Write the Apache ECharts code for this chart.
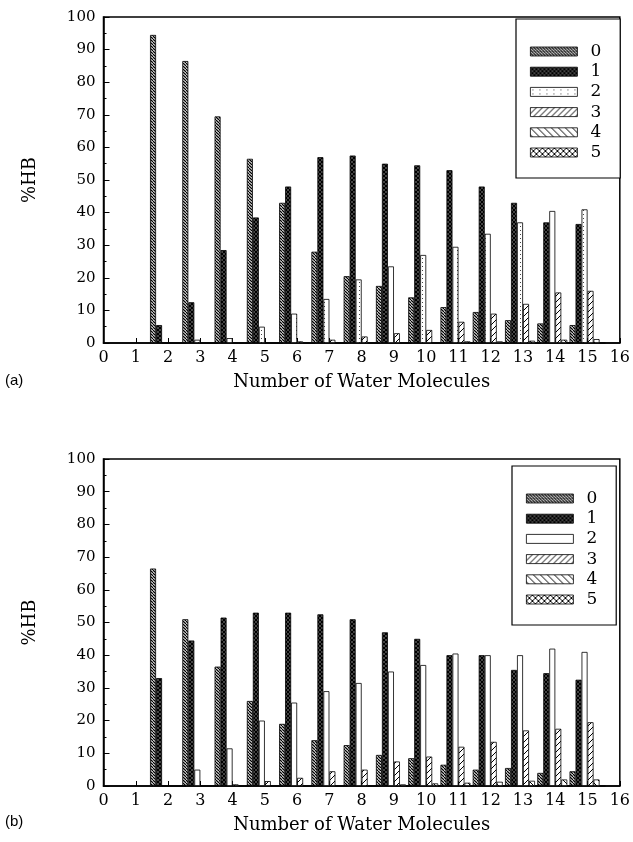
<!DOCTYPE html>
<html>
<head>
<meta charset="utf-8">
<script src="https://cdn.jsdelivr.net/npm/echarts@6/dist/echarts.min.js"></script>
<style>
  html, body { margin: 0; padding: 0; background: #fff; }
  #chart { width: 633px; height: 842px; }
</style>
</head>
<body>
<div id="chart"></div>
<script>
// Axis categories (number of water molecules) and the clusters that carry data
const xLabels = ['0','1','2','3','4','5','6','7','8','9','10','11','12','13','14','15','16'];
const waterCounts = [2,3,4,5,6,7,8,9,10,11,12,13,14,15];
const hbNames = ['0','1','2','3','4','5'];

// Panel (a): %HB for 0..5 hydrogen bonds
const hbA0 = [94.5, 86.5, 69.5, 56.5, 43, 28, 20.5, 17.5, 14, 11, 9.5, 7, 6, 5.5];
const hbA1 = [5.5, 12.5, 28.5, 38.5, 48, 57, 57.5, 55, 54.5, 53, 48, 43, 37, 36.5];
const hbA2 = [0, 1, 1.5, 5, 9, 13.5, 19.5, 23.5, 27, 29.5, 33.5, 37, 40.5, 41];
const hbA3 = [0, 0, 0, 0, 0.5, 1, 2, 3, 4, 6.5, 9, 12, 15.5, 16];
const hbA4 = [0, 0, 0, 0, 0, 0, 0, 0, 0, 0.5, 0.5, 0.7, 1, 1.2];
const hbA5 = [0, 0, 0, 0, 0, 0, 0, 0, 0, 0, 0, 0, 0, 0];

// Panel (b)
const hbB0 = [66.5, 51, 36.5, 26, 19, 14, 12.5, 9.5, 8.5, 6.5, 5, 5.5, 4, 4.5];
const hbB1 = [33, 44.5, 51.5, 53, 53, 52.5, 51, 47, 45, 40, 40, 35.5, 34.5, 32.5];
const hbB2 = [0, 5, 11.5, 20, 25.5, 29, 31.5, 35, 37, 40.5, 40, 40, 42, 41];
const hbB3 = [0, 0, 0.5, 1.5, 2.5, 4.5, 5, 7.5, 9, 12, 13.5, 17, 17.5, 19.5];
const hbB4 = [0, 0, 0, 0, 0, 0, 0, 0.5, 0.8, 1, 1.3, 1.6, 2, 2];
const hbB5 = [0, 0, 0, 0, 0, 0, 0, 0, 0, 0, 0, 0, 0, 0];

const SERIF = 'DejaVu Serif';

// spread a cluster-indexed array over the full 0..16 category axis
function onAxis(vals) {
  return xLabels.map(l => {
    const i = waterCounts.indexOf(Number(l));
    return i < 0 ? null : vals[i];
  });
}

// repeating hatch tiles used as bar fills
function tile(size, opts) {
  const c = document.createElement('canvas');
  c.width = size; c.height = size;
  const g = c.getContext('2d');
  g.fillStyle = opts.bg || '#fff';
  g.fillRect(0, 0, size, size);
  g.strokeStyle = '#000';
  g.lineWidth = opts.lw || 1;
  (opts.dirs || []).forEach(d => {
    for (let k = -1; k <= 1; k++) {
      g.beginPath();
      if (d === '/') { g.moveTo(k * size, size); g.lineTo(k * size + size, 0); }
      else { g.moveTo(k * size, 0); g.lineTo(k * size + size, size); }
      g.stroke();
    }
  });
  return { image: c, repeat: 'repeat' };
}

const fillsA = [
  tile(3, { dirs: ['\\'], lw: 1.3 }),
  tile(4, { dirs: ['/', '\\'], lw: 1.4, bg: '#888' }),
  (function () {
    const c = document.createElement('canvas'); c.width = 7; c.height = 4;
    const g = c.getContext('2d'); g.fillStyle = '#fff'; g.fillRect(0, 0, 7, 4);
    g.fillStyle = '#444'; g.fillRect(2, 2, 1, 1);
    return { image: c, repeat: 'repeat' };
  })(),
  tile(6, { dirs: ['/'], lw: 1 }),
  tile(7, { dirs: ['\\'], lw: 1 }),
  tile(6, { dirs: ['/', '\\'], lw: 1 })
];
const fillsB = fillsA.slice();
fillsB[2] = '#fff';

const chart = echarts.init(document.getElementById('chart'), null, { renderer: 'canvas' });

function axisPair(idx) {
  const x = {
    type: 'category', gridIndex: idx, data: xLabels, boundaryGap: false,
    axisLine: { lineStyle: { color: '#000', width: 1.5 } },
    axisTick: { inside: true, length: 5, alignWithLabel: true, lineStyle: { color: '#000' } },
    axisLabel: { interval: 0, color: '#000', fontFamily: SERIF, fontSize: 16, margin: 7 },
    name: 'Number of Water Molecules', nameLocation: 'middle', nameGap: 30,
    nameTextStyle: { color: '#000', fontFamily: SERIF, fontSize: 18 },
    splitLine: { show: false }
  };
  const y = {
    type: 'value', gridIndex: idx, min: 0, max: 100, interval: 10,
    axisLine: { show: true, lineStyle: { color: '#000', width: 1.5 } },
    axisTick: { show: true, inside: true, length: 6, lineStyle: { color: '#000' } },
    minorTick: { show: true, splitNumber: 2, length: 3, lineStyle: { color: '#000' } },
    axisLabel: { color: '#000', fontFamily: SERIF, fontSize: 15, margin: 8 },
    splitLine: { show: false },
    name: '%HB', nameLocation: 'middle', nameGap: 64, nameRotate: 90,
    nameTextStyle: { color: '#000', fontFamily: SERIF, fontSize: 18 }
  };
  return [x, y];
}

const [xa, ya] = axisPair(0);
const [xb, yb] = axisPair(1);

function makeSeries(sets, fills, idx) {
  return sets.map((vals, k) => ({
    type: 'bar', name: hbNames[k], xAxisIndex: idx, yAxisIndex: idx,
    data: onAxis(vals), barWidth: 6, barGap: '0%',
    itemStyle: { color: fills[k], borderColor: '#000', borderWidth: 0.8 },
    emphasis: { disabled: true }, animation: false
  }));
}

function legendFor(left, top, fills) {
  return {
    orient: 'vertical', left: left, top: top,
    padding: [24, 19, 17, 14], itemWidth: 47, itemHeight: 9, itemGap: 3.2,
    borderColor: '#000', borderWidth: 1.2, backgroundColor: '#fff',
    selectedMode: false,
    textStyle: { color: '#000', fontFamily: SERIF, fontSize: 17, padding: [0, 0, 0, 8] },
    data: hbNames.map((n, k) => ({
      name: n, icon: 'rect',
      itemStyle: { color: fills[k], borderColor: '#000', borderWidth: 0.8 }
    }))
  };
}

chart.setOption({
  animation: false,
  grid: [
    { left: 103.5, top: 17, width: 519, height: 326, show: true, borderColor: '#000', borderWidth: 1.5 },
    { left: 103.5, top: 459, width: 519, height: 327, show: true, borderColor: '#000', borderWidth: 1.5 }
  ],
  xAxis: [xa, xb],
  yAxis: [ya, yb],
  legend: [legendFor(516, 19, fillsA), legendFor(512, 466, fillsB)],
  series: [
    ...makeSeries([hbA0, hbA1, hbA2, hbA3, hbA4, hbA5], fillsA, 0),
    ...makeSeries([hbB0, hbB1, hbB2, hbB3, hbB4, hbB5], fillsB, 1)
  ],
  graphic: [
    { type: 'text', left: 5, top: 373, style: { text: '(a)', fontFamily: 'Liberation Sans', fontSize: 15, fill: '#000' } },
    { type: 'text', left: 5, top: 814, style: { text: '(b)', fontFamily: 'Liberation Sans', fontSize: 15, fill: '#000' } }
  ]
});
</script>
</body>
</html>
